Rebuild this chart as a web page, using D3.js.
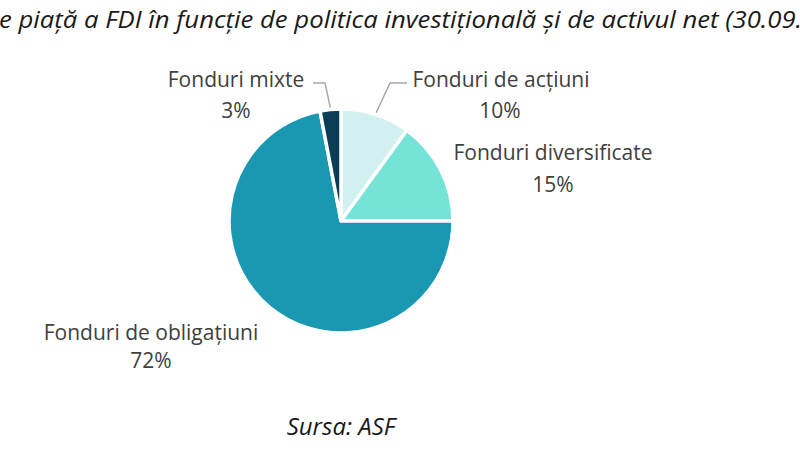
<!DOCTYPE html>
<html><head><meta charset="utf-8">
<script src="https://cdn.jsdelivr.net/npm/d3@7"></script>
<style>html,body{margin:0;padding:0;background:#fff;}svg{display:block;}</style>
</head><body>
<svg id="c" width="800" height="450"></svg>
<script>
const categories = ["Fonduri de acțiuni", "Fonduri diversificate", "Fonduri de obligațiuni", "Fonduri mixte"];
const values = [10, 15, 72, 3];
const valueLabels = ["10%", "15%", "72%", "3%"];
const colors = ["#d3f0f1", "#76e3d8", "#1a98b2", "#0b3e55"];
const titleText = "e piață a FDI în funcție de politica investițională și de activul net (30.09.";
const sourceText = "Sursa: ASF";

const svg = d3.select("#c");
const cx = 341, cy = 221, R = 112;
const g = svg.append("g").attr("transform", `translate(${cx},${cy})`);

const pie = d3.pie().sort(null).value(d => d.v);
const data = pie(values.map((v, i) => ({v, i})));
const arc = d3.arc().innerRadius(0).outerRadius(R);

g.selectAll("path.s").data(data).join("path")
  .attr("class", "s")
  .attr("d", arc)
  .attr("fill", d => colors[d.data.i])
  .attr("stroke", "#fff")
  .attr("stroke-width", 3.5)
  .attr("stroke-linejoin", "round");

// title
svg.append("text")
  .attr("x", -1).attr("y", 28)
  .attr("font-family", "Open Sans, sans-serif")
  .attr("font-style", "italic")
  .attr("font-size", 23)
  .attr("fill", "#1a1a1a")
  .attr("textLength", 803)
  .attr("lengthAdjust", "spacingAndGlyphs")
  .text(titleText);

// label layout per category index
const labelPos = [
  {nx: 501, ny: 87, vx: 500, vy: 118},
  {nx: 553, ny: 160, vx: 553, vy: 192},
  {nx: 151, ny: 340, vx: 151, vy: 368},
  {nx: 236, ny: 87, vx: 236, vy: 118}
];
const lab = svg.append("g")
  .attr("font-family", "Open Sans, sans-serif")
  .attr("font-size", 21)
  .attr("fill", "#404040")
  .attr("text-anchor", "middle");
data.forEach(d => {
  const p = labelPos[d.data.i];
  lab.append("text").attr("x", p.nx).attr("y", p.ny).text(categories[d.data.i]);
  lab.append("text").attr("x", p.vx).attr("y", p.vy).text(valueLabels[d.data.i]);
});

// leader lines for small slices (acțiuni, mixte)
const edgeArc = d3.arc().innerRadius(R + 2).outerRadius(R + 2);
const leaders = [
  {i: 0, pts: [[390, 83], [407, 83]]},
  {i: 3, pts: [[325, 83], [313, 83]]}
];
leaders.forEach(L => {
  const d = data.find(x => x.data.i === L.i);
  const c = edgeArc.centroid(d);
  const p0 = [cx + c[0], cy + c[1]];
  svg.append("path")
    .attr("d", d3.line()([p0, ...L.pts]))
    .attr("fill", "none")
    .attr("stroke", "#a6a6a6")
    .attr("stroke-width", 1.4);
});

svg.append("text")
  .attr("x", 341).attr("y", 435)
  .attr("text-anchor", "middle")
  .attr("font-family", "Open Sans, sans-serif")
  .attr("font-style", "italic")
  .attr("font-size", 24)
  .attr("fill", "#1a1a1a")
  .text(sourceText);
</script>
</body></html>
